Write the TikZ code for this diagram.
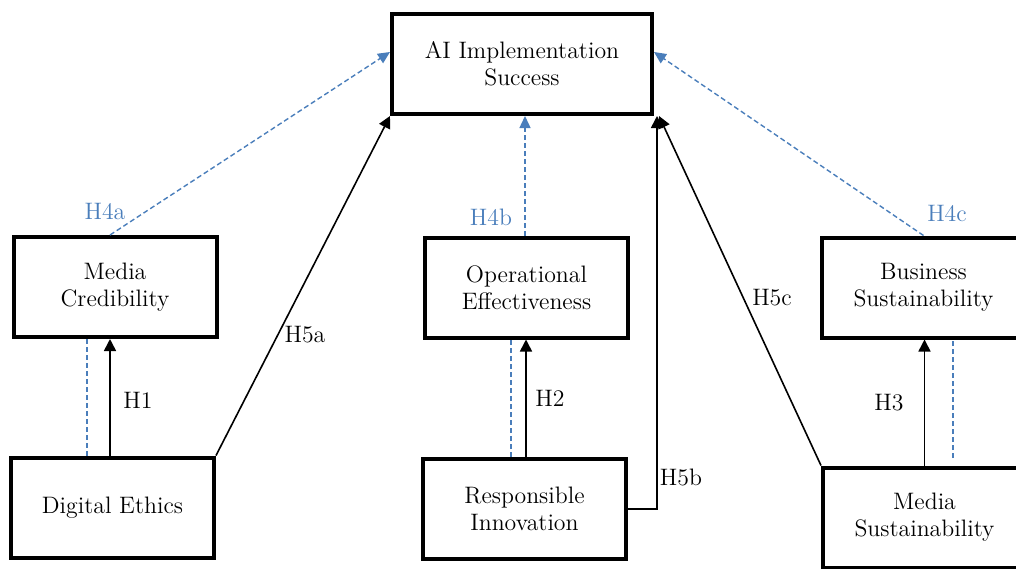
\documentclass[tikz,border=0pt]{standalone}
\usepackage{amsmath}
\usepackage{tikz}
\usetikzlibrary{arrows.meta}
\definecolor{hypblue}{RGB}{74,126,187}
\tikzset{
	varbox/.style={draw,line width=2pt,minimum width=101.5pt,minimum height=50pt,inner sep=0pt,align=center,font=\fontsize{11.9}{13.5}\selectfont},
	direct/.style={line width=0.8pt,-{Triangle[length=6pt,width=6pt]}},
	mediated/.style={hypblue,line width=0.7pt,dash pattern=on 2.5pt off 1.5pt},
	hlabel/.style={font=\fontsize{11.9}{13.5}\selectfont,inner sep=0pt}
}
\begin{document}
\begin{tikzpicture}[x=0.5pt,y=-0.5pt]
					\useasboundingbox (0,0) rectangle (1016,568);
					\clip (0,0) rectangle (1016,568);
					% variables
					\node[varbox,minimum width=130pt] (ai) at (522,64) {AI Implementation\\Success};
					\node[varbox] (mc) at (115,287) {Media\\Credibility};
					\node[varbox] (oe) at (526.5,287.5) {Operational\\Effectiveness};
					\node[varbox] (bs) at (923.5,287.5) {Business\\Sustainability};
					\node[varbox] (de) at (112.5,507.5) {Digital Ethics};
					\node[varbox] (ri) at (524.5,509) {Responsible\\Innovation};
					\node[varbox] (ms) at (924.5,517.5) {Media\\Sustainability};
					\coordinate (msdash) at (953,458);
					% H1 - H3
					\draw[direct] ([xshift=-1.25pt]de.north) -- ([xshift=-1.25pt]de.north |- mc.south);
					\draw[direct] ([xshift=0.75pt]ri.north) -- ([xshift=0.75pt]ri.north |- oe.south);
					\draw[direct] (ms.north) -- (ms.north |- bs.south);
					\draw[mediated] ([xshift=-12.75pt]de.north) -- ([xshift=-12.75pt]de.north |- mc.south);
					\draw[mediated] ([xshift=-6.75pt]ri.north) -- ([xshift=-6.75pt]ri.north |- oe.south);
					\draw[mediated] (msdash) -- (msdash |- bs.south);
					% H4a - H4c
					\draw[mediated,-{Triangle[length=6pt,width=5.5pt]}] ([xshift=-2.5pt]mc.north) -- ([yshift=6pt]ai.west);
					\draw[mediated,-{Triangle[length=6pt,width=5.5pt]}] ([xshift=-0.75pt]oe.north) -- ([xshift=-0.75pt]oe.north |- ai.south);
					\draw[mediated,-{Triangle[length=6pt,width=5.5pt]}] (bs.north) -- ([yshift=6pt]ai.east);
					% H5a - H5c
					\draw[direct] (de.north east) -- (ai.south west);
					\draw[direct] (ri.east) -| ([xshift=1.5pt]ai.south east);
					\draw[direct] (ms.north west) -- ([xshift=2.5pt]ai.south east);
					% labels
					\node[hlabel] (l1) at (138,400) {H1};
					\node[hlabel] (l2) at (550,398) {H2};
					\node[hlabel] (l3) at (889,403) {H3};
					\node[hlabel,hypblue] (l4a) at (105,211) {H4a};
					\node[hlabel,hypblue] (l4b) at (491,217) {H4b};
					\node[hlabel,hypblue] (l4c) at (947,213) {H4c};
					\node[hlabel] (l5a) at (305,335) {H5a};
					\node[hlabel] (l5b) at (681,477) {H5b};
					\node[hlabel] (l5c) at (772,298) {H5c};
				\end{tikzpicture}
\end{document}
